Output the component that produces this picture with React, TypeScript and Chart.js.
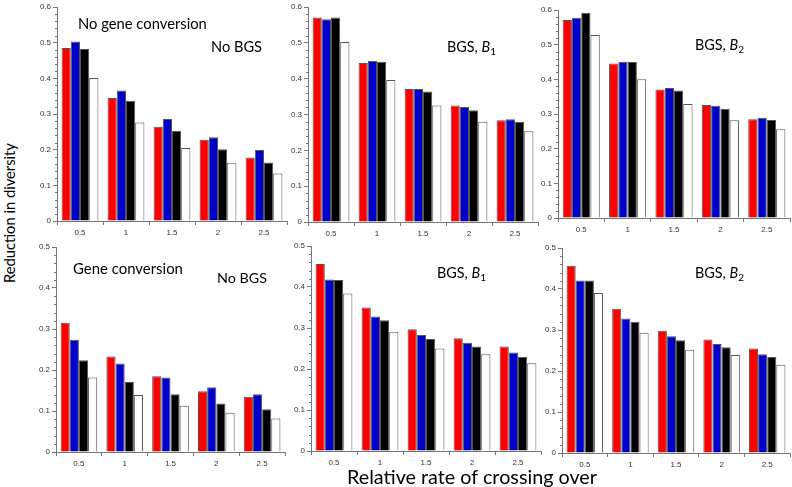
import React, { useEffect, useLayoutEffect, useRef } from 'react';
import { Chart, registerables } from 'chart.js';

Chart.register(...registerables);

const categories = ['0.5', '1', '1.5', '2', '2.5'];
const seriesColors = ['#ff0000', '#0000cc', '#000000', '#ffffff'];

// Top-left: No gene conversion, No BGS
const ncNoBgsRed = [0.485, 0.345, 0.264, 0.228, 0.178];
const ncNoBgsBlue = [0.503, 0.366, 0.286, 0.235, 0.199];
const ncNoBgsBlack = [0.482, 0.337, 0.253, 0.201, 0.164];
const ncNoBgsWhite = [0.401, 0.276, 0.205, 0.163, 0.133];

// Top-middle: No gene conversion, BGS B1
const ncB1Red = [0.571, 0.444, 0.371, 0.325, 0.284];
const ncB1Blue = [0.566, 0.449, 0.371, 0.321, 0.287];
const ncB1Black = [0.571, 0.447, 0.364, 0.312, 0.28];
const ncB1White = [0.502, 0.396, 0.325, 0.28, 0.253];

// Top-right: No gene conversion, BGS B2
const ncB2Red = [0.571, 0.446, 0.371, 0.326, 0.285];
const ncB2Blue = [0.578, 0.451, 0.375, 0.324, 0.289];
const ncB2Black = [0.592, 0.45, 0.368, 0.315, 0.283];
const ncB2White = [0.528, 0.4, 0.329, 0.282, 0.256];

// Bottom-left: Gene conversion, No BGS
const gcNoBgsRed = [0.315, 0.233, 0.185, 0.148, 0.135];
const gcNoBgsBlue = [0.274, 0.216, 0.182, 0.158, 0.141];
const gcNoBgsBlack = [0.224, 0.171, 0.141, 0.118, 0.104];
const gcNoBgsWhite = [0.182, 0.139, 0.113, 0.096, 0.082];

// Bottom-middle: Gene conversion, BGS B1
const gcB1Red = [0.456, 0.35, 0.297, 0.275, 0.255];
const gcB1Blue = [0.418, 0.328, 0.283, 0.264, 0.24];
const gcB1Black = [0.417, 0.319, 0.273, 0.255, 0.23];
const gcB1White = [0.384, 0.291, 0.25, 0.236, 0.214];

// Bottom-right: Gene conversion, BGS B2
const gcB2Red = [0.457, 0.352, 0.298, 0.277, 0.255];
const gcB2Blue = [0.421, 0.328, 0.285, 0.266, 0.241];
const gcB2Black = [0.421, 0.32, 0.275, 0.258, 0.234];
const gcB2White = [0.39, 0.293, 0.252, 0.239, 0.215];

type PanelSpec = {
  series: number[][];
  yMax: number;
  left: number;
  top: number;
  right: number;
  bottom: number;
};

const panels: PanelSpec[] = [
  { series: [ncNoBgsRed, ncNoBgsBlue, ncNoBgsBlack, ncNoBgsWhite], yMax: 0.6, left: 57, top: 7, right: 287, bottom: 221 },
  { series: [ncB1Red, ncB1Blue, ncB1Black, ncB1White], yMax: 0.6, left: 308, top: 7, right: 538, bottom: 222 },
  { series: [ncB2Red, ncB2Blue, ncB2Black, ncB2White], yMax: 0.6, left: 558, top: 10, right: 790, bottom: 218 },
  { series: [gcNoBgsRed, gcNoBgsBlue, gcNoBgsBlack, gcNoBgsWhite], yMax: 0.5, left: 56, top: 247, right: 285, bottom: 452 },
  { series: [gcB1Red, gcB1Blue, gcB1Black, gcB1White], yMax: 0.5, left: 311, top: 246, right: 541, bottom: 451 },
  { series: [gcB2Red, gcB2Blue, gcB2Black, gcB2White], yMax: 0.5, left: 562, top: 248, right: 790, bottom: 453 },
];

const YW = 30;
const PT = 8;
const XH = 22;
const PR = 2;
const axisColor = '#777777';
const tickFont = { family: '"Liberation Sans", Arial, sans-serif', size: 8 };

const minorTicks = {
  id: 'minorTicks',
  afterDraw(chart: any) {
    const y = chart.scales.y;
    const ctx = chart.ctx;
    const left = chart.chartArea.left;
    ctx.save();
    ctx.strokeStyle = axisColor;
    ctx.lineWidth = 1;
    const n = Math.round(y.max / 0.02);
    for (let i = 1; i < n; i++) {
      if (i % 5 === 0) continue;
      const py = Math.round(y.getPixelForValue(i * 0.02)) + 0.5;
      ctx.beginPath();
      ctx.moveTo(left - 2, py);
      ctx.lineTo(left, py);
      ctx.stroke();
    }
    ctx.restore();
  },
};

function Panel({ p }: { p: PanelSpec }) {
  const ref = useRef<HTMLCanvasElement>(null);
  const w = p.right - p.left + YW + PR;
  const h = p.bottom - p.top + PT + XH;
  useEffect(() => {
    const chart = new Chart(ref.current as HTMLCanvasElement, {
      type: 'bar',
      data: {
        labels: categories,
        datasets: p.series.map((vals, i) => ({
          label: 'S' + i,
          data: vals,
          backgroundColor: seriesColors[i],
          borderColor: '#555555',
          borderWidth: 1,
          borderSkipped: 'bottom',
          categoryPercentage: 0.8,
          barPercentage: 1.0,
        })),
      },
      options: {
        animation: false,
        responsive: false,
        maintainAspectRatio: false,
        layout: { padding: { top: PT, right: PR, left: 0, bottom: 0 } },
        plugins: { legend: { display: false }, tooltip: { enabled: false } },
        scales: {
          x: {
            offset: true,
            grid: { display: true, offset: true, drawOnChartArea: false, drawTicks: true, tickLength: 4, color: axisColor },
            border: { display: true, color: axisColor, width: 1 },
            ticks: { font: tickFont, color: '#333333', padding: 3, maxRotation: 0 },
            afterFit: (s: any) => { s.height = XH; },
          },
          y: {
            min: 0,
            max: p.yMax,
            grid: { display: true, drawOnChartArea: false, drawTicks: true, tickLength: 4, color: axisColor },
            border: { display: true, color: axisColor, width: 1 },
            ticks: { stepSize: 0.1, font: tickFont, color: '#333333', padding: 2 },
            afterFit: (s: any) => { s.width = YW; },
          },
        },
      },
      plugins: [minorTicks],
    });
    return () => chart.destroy();
  }, []);
  return (
    <canvas
      ref={ref}
      width={w}
      height={h}
      style={{ position: 'absolute', left: p.left - YW, top: p.top - PT, width: w, height: h }}
    />
  );
}

const labelFont = 'Lato, "Open Sans", sans-serif';

// Text whose font size is fitted so that its width matches the reference width
function FitText({
  x,
  y,
  w,
  mode = 'left',
  children,
}: {
  x: number;
  y: number;
  w: number;
  mode?: 'left' | 'center' | 'vertical';
  children: any;
}) {
  const ref = useRef<HTMLDivElement>(null);
  useLayoutEffect(() => {
    const el = ref.current as HTMLDivElement;
    const base = 20;
    el.style.fontSize = base + 'px';
    const m = el.getBoundingClientRect();
    const measured = mode === 'vertical' ? m.height : m.width;
    if (measured > 0) el.style.fontSize = (base * w) / measured + 'px';
  }, []);
  const transform =
    mode === 'left'
      ? 'translateY(-50%)'
      : mode === 'center'
      ? 'translate(-50%, -50%)'
      : 'translate(-50%, -50%) rotate(-90deg)';
  return (
    <div
      ref={ref}
      style={{
        position: 'absolute',
        left: x,
        top: y,
        transform,
        fontFamily: labelFont,
        fontSize: 15,
        color: '#000',
        whiteSpace: 'nowrap',
        lineHeight: 1,
      }}
    >
      {children}
    </div>
  );
}

const B1 = (
  <span>
    BGS, <i>B</i>
    <sub style={{ fontSize: '0.7em', verticalAlign: '-0.3em' }}>1</sub>
  </span>
);
const B2 = (
  <span>
    BGS, <i>B</i>
    <sub style={{ fontSize: '0.7em', verticalAlign: '-0.3em' }}>2</sub>
  </span>
);

export default function App() {
  return (
    <div style={{ position: 'absolute', left: 0, top: 0, width: 792, height: 487, background: '#fff', overflow: 'hidden' }}>
      {panels.map((p, i) => (
        <Panel key={i} p={p} />
      ))}
      <FitText x={78} y={23} w={129}>No gene conversion</FitText>
      <FitText x={211} y={47} w={51}>No BGS</FitText>
      <FitText x={447} y={48} w={49}>{B1}</FitText>
      <FitText x={695} y={46} w={49}>{B2}</FitText>
      <FitText x={73} y={268} w={110}>Gene conversion</FitText>
      <FitText x={217} y={278} w={50}>No BGS</FitText>
      <FitText x={437} y={274} w={49}>{B1}</FitText>
      <FitText x={695} y={274} w={49}>{B2}</FitText>
      <FitText x={472} y={477} w={250} mode="center">Relative rate of crossing over</FitText>
      <FitText x={9} y={213} w={140} mode="vertical">Reduction in diversity</FitText>
    </div>
  );
}
